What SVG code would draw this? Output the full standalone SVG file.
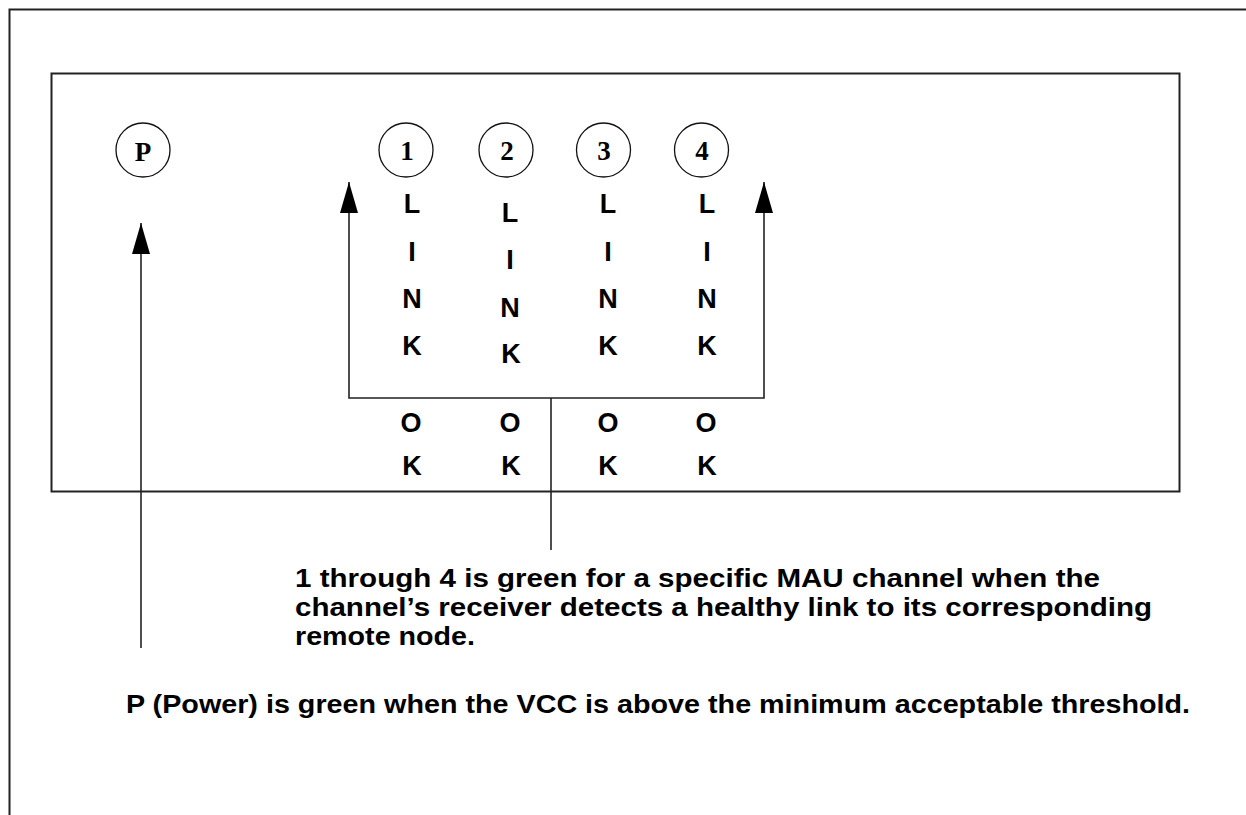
<svg xmlns="http://www.w3.org/2000/svg" width="1246" height="815" viewBox="0 0 1246 815">
<style>
.frame{fill:none;stroke:#222;stroke-width:2}
.ln{fill:none;stroke:#222;stroke-width:1.6}
.led{fill:#fff;stroke:#111;stroke-width:1.3}
.num{font-family:"Liberation Serif",serif;font-weight:bold;font-size:27px;text-anchor:middle;fill:#000}
.lt{font-family:"Liberation Sans",Arial,sans-serif;font-weight:bold;font-size:27px;text-anchor:middle;fill:#000}
.note{font-family:"Liberation Sans",Arial,sans-serif;font-weight:bold;font-size:26px;fill:#000}
</style>
<defs>
<marker id="ah" markerWidth="31" markerHeight="18" refX="31" refY="9" orient="auto" markerUnits="userSpaceOnUse" viewBox="0 0 31 18">
<path d="M31 9 L0 0 L0 18 Z" fill="#000"/>
</marker>
</defs>
<rect width="1246" height="815" fill="#fff"/>
<path class="frame" d="M9.5 815 V9.5 H1250"/>
<rect class="frame" x="51.5" y="73.5" width="1128" height="418" id="panel"/>

<g id="led-p"><circle class="led" cx="143" cy="150" r="27"/><text class="num" x="143" y="160.5">P</text></g>
<g id="led-1"><circle class="led" cx="406" cy="150" r="27"/><text class="num" x="407" y="160">1</text></g>
<g id="led-2"><circle class="led" cx="506" cy="150" r="27"/><text class="num" x="507" y="160">2</text></g>
<g id="led-3"><circle class="led" cx="603.5" cy="150" r="27"/><text class="num" x="604" y="160">3</text></g>
<g id="led-4"><circle class="led" cx="701.5" cy="150" r="27"/><text class="num" x="702" y="160">4</text></g>

<g id="label-1"><text class="lt" x="412" y="213">L</text><text class="lt" x="412" y="261">I</text><text class="lt" x="412" y="308">N</text><text class="lt" x="412" y="355">K</text><text class="lt" x="411" y="432">O</text><text class="lt" x="412" y="475">K</text></g>
<g id="label-2"><text class="lt" x="510" y="222">L</text><text class="lt" x="510" y="269">I</text><text class="lt" x="510" y="317">N</text><text class="lt" x="511" y="363">K</text><text class="lt" x="510" y="432">O</text><text class="lt" x="511" y="475">K</text></g>
<g id="label-3"><text class="lt" x="608" y="213">L</text><text class="lt" x="608" y="261">I</text><text class="lt" x="608" y="308">N</text><text class="lt" x="608" y="355">K</text><text class="lt" x="608" y="432">O</text><text class="lt" x="608" y="475">K</text></g>
<g id="label-4"><text class="lt" x="707" y="213">L</text><text class="lt" x="707" y="261">I</text><text class="lt" x="707" y="308">N</text><text class="lt" x="707" y="355">K</text><text class="lt" x="706" y="432">O</text><text class="lt" x="707" y="475">K</text></g>

<g id="connectors">
<path class="ln" d="M141 648 V223" marker-end="url(#ah)"/>
<path class="ln" d="M551 550 V398"/>
<path class="ln" d="M551 398 H349 V182" marker-end="url(#ah)"/>
<path class="ln" d="M551 398 H764 V182" marker-end="url(#ah)"/>
</g>

<g id="note-link">
<text class="note" x="295" y="587" textLength="805" lengthAdjust="spacingAndGlyphs">1 through 4 is green for a specific MAU channel when the</text>
<text class="note" x="295" y="616" textLength="857" lengthAdjust="spacingAndGlyphs">channel’s receiver detects a healthy link to its corresponding</text>
<text class="note" x="295" y="645" textLength="180" lengthAdjust="spacingAndGlyphs">remote node.</text>
</g>
<g id="note-power">
<text class="note" x="126" y="713" textLength="1064" lengthAdjust="spacingAndGlyphs">P (Power) is green when the VCC is above the minimum acceptable threshold.</text>
</g>
</svg>
